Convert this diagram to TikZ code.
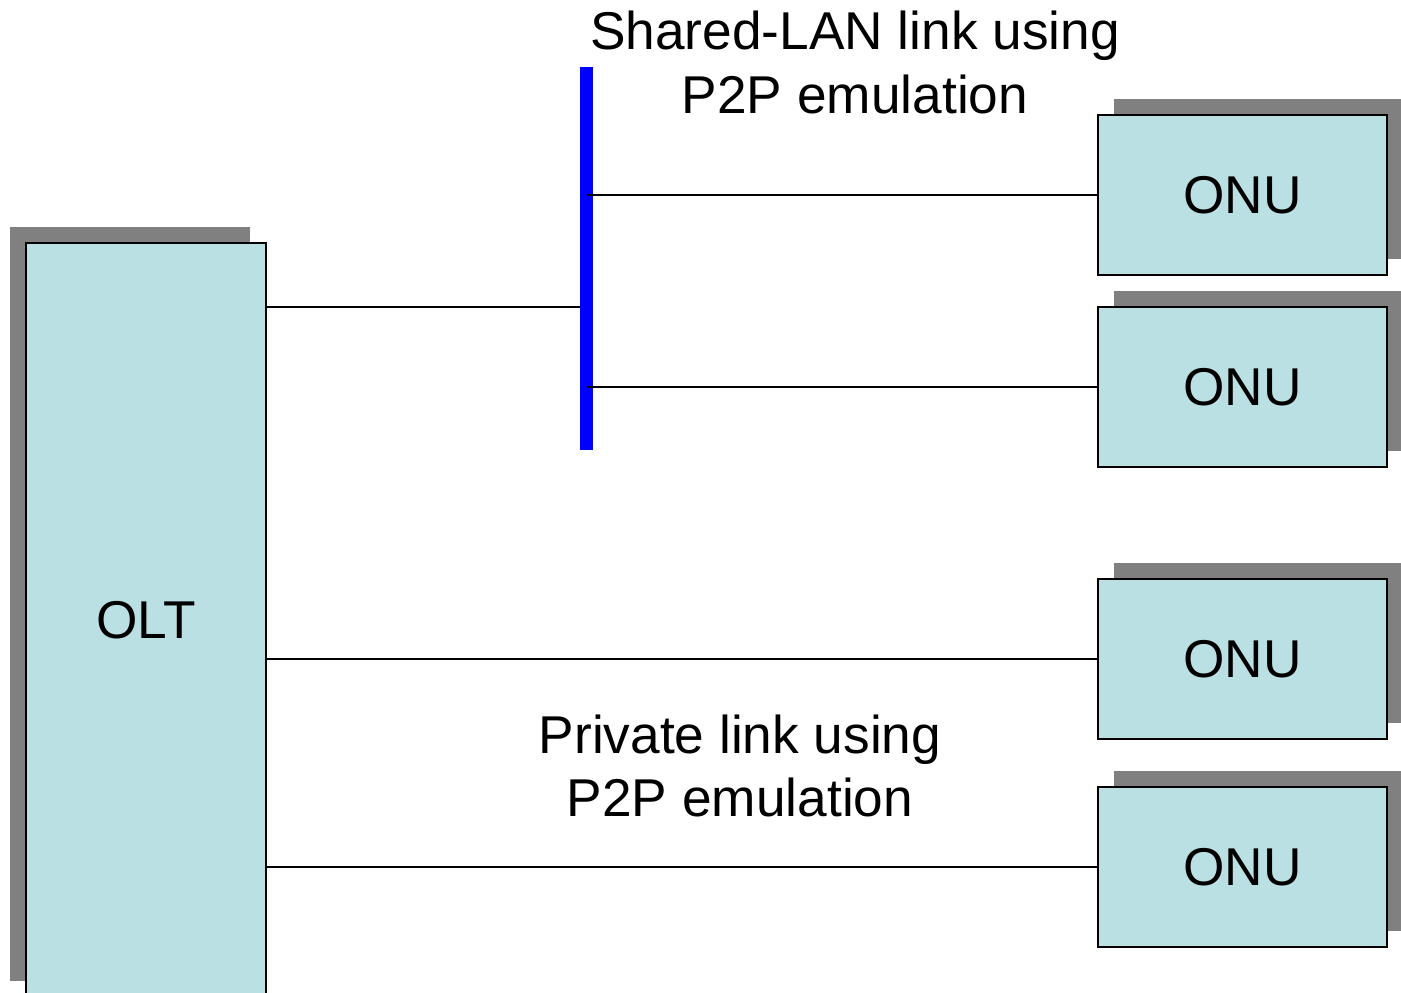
\documentclass[tikz,border=0pt]{standalone}
\usepackage{fontspec}
\setmainfont{Liberation Sans}
\usetikzlibrary{shadows}
\definecolor{unitFill}{RGB}{187,224,227}
\definecolor{unitShadow}{RGB}{128,128,128}
\definecolor{busBlue}{RGB}{0,0,255}

\begin{document}
\begin{tikzpicture}[x=0.02cm, y=-0.02cm,
  unit/.style={draw=black, line width=0.85pt, fill=unitFill,
    font=\fontsize{30.3}{35.9}\selectfont},
  onu/.style={unit, minimum width=5.78cm, minimum height=3.2cm,
    general shadow={shadow xshift=0.32cm, shadow yshift=0.32cm, fill=unitShadow}},
  link/.style={line width=0.85pt},
  caption/.style={align=center, font=\fontsize{30.3}{35.9}\selectfont}]
\clip (0,0) rectangle (1401,992);
% boxes
\node[unit, minimum width=4.8cm, minimum height=15.08cm,
  general shadow={shadow xshift=-0.32cm, shadow yshift=0.32cm, fill=unitShadow}] (olt) at (146,620) {OLT};
\node[onu] (onu1) at (1242.5,195) {ONU};
\node[onu] (onu2) at (1242.5,387) {ONU};
\node[onu] (onu3) at (1242.5,659) {ONU};
\node[onu] (onu4) at (1242.5,867) {ONU};
% shared bus
\node[fill=busBlue, inner sep=0, minimum width=0.25cm, minimum height=7.66cm] (bus) at (586.5,258.5) {};
\draw[link] (olt.east |- 0,307) -- (bus.west |- 0,307);
\draw[link] (bus.center |- onu1.west) -- (onu1.west);
\draw[link] (bus.center |- onu2.west) -- (onu2.west);
% private links
\draw[link] (olt.east |- onu3.west) -- (onu3.west);
\draw[link] (olt.east |- onu4.west) -- (onu4.west);
\node[caption] (shared) at (855,62.5) {Shared-LAN link using\\P2P emulation};
\node[caption] (private) at (740,765.5) {Private link using\\P2P emulation};
\end{tikzpicture}
\end{document}
